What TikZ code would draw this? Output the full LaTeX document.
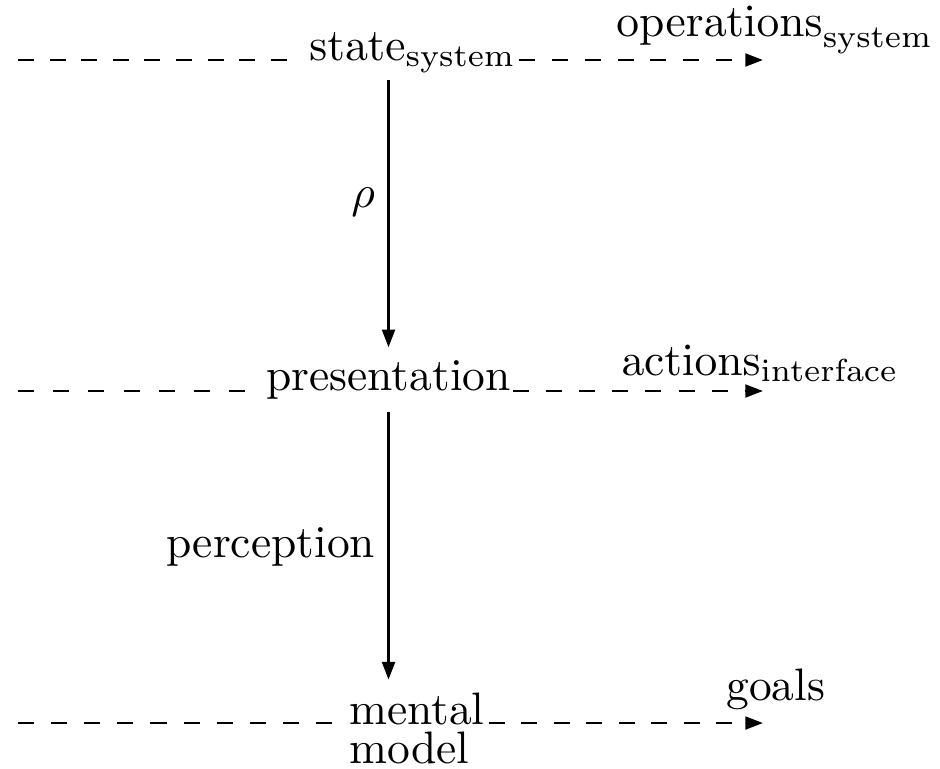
\documentclass[tikz,border=0pt]{standalone}
\usetikzlibrary{arrows.meta}
\begin{document}
\begin{tikzpicture}[x=0.2198pt,y=-0.2198pt,line width=0.6pt,
  lbl/.style={inner xsep=0pt,inner ysep=2.5pt,anchor=base west},
  tip/.style={-{Triangle[length=3.9pt,width=2.8pt]}},
  dashline/.style={dash pattern=on 3.52pt off #1},
  arrdash/.style={tip,dash pattern=on 3.52pt off #1},
  vert/.style={tip}]
\useasboundingbox (0,0) rectangle (940,768);
% main nodes
\node[lbl] (state) at (308,60) {$\mathrm{state}_{\mathrm{system}}$};
\node[lbl] (pres) at (265,390) {presentation};
\node[lbl,inner ysep=1pt] (mental) at (348,724) {mental};
\node[lbl,inner ysep=0pt] (model) at (348,763) {model};
% labels
\node[lbl] (ops) at (615,36) {$\mathrm{operations}_{\mathrm{system}}$};
\node[lbl] (act) at (620,375) {$\mathrm{actions}_{\mathrm{interface}}$};
\node[lbl] (goals) at (725,700) {goals};
\node[lbl] (rho) at (350,207) {$\rho$};
\node[lbl] (perc) at (165,557) {perception};
% free ends
\coordinate (l1) at (18,60);
\coordinate (l2) at (18,391);
\coordinate (l3) at (18,723);
\coordinate (r1) at (763,60);
\coordinate (r2) at (763,391);
\coordinate (r3) at (763,723);
% horizontal dashed lines
\draw[dashline=3.43pt,shorten >=4.6pt] (l1) -- (state.west |- l1);
\draw[arrdash=3.71pt] ([xshift=0.3pt]state.east |- r1) -- (r1);
\draw[dashline=4.22pt,shorten >=4.4pt] (l2) -- (pres.west |- l2);
\draw[arrdash=3.76pt] ([xshift=0.2pt]pres.east |- r2) -- (r2);
\draw[dashline=3.76pt,shorten >=3.5pt] (l3) -- (mental.west |- l3);
\draw[arrdash=3.63pt] ([xshift=0.6pt]mental.east |- r3) -- (r3);
% vertical arrows
\draw[vert,shorten <=-1.2pt] (pres.north |- state.south) -- (pres.north);
\draw[vert,shorten >=1.5pt] (pres.south) -- (pres.south |- mental.north);
\end{tikzpicture}
\end{document}
